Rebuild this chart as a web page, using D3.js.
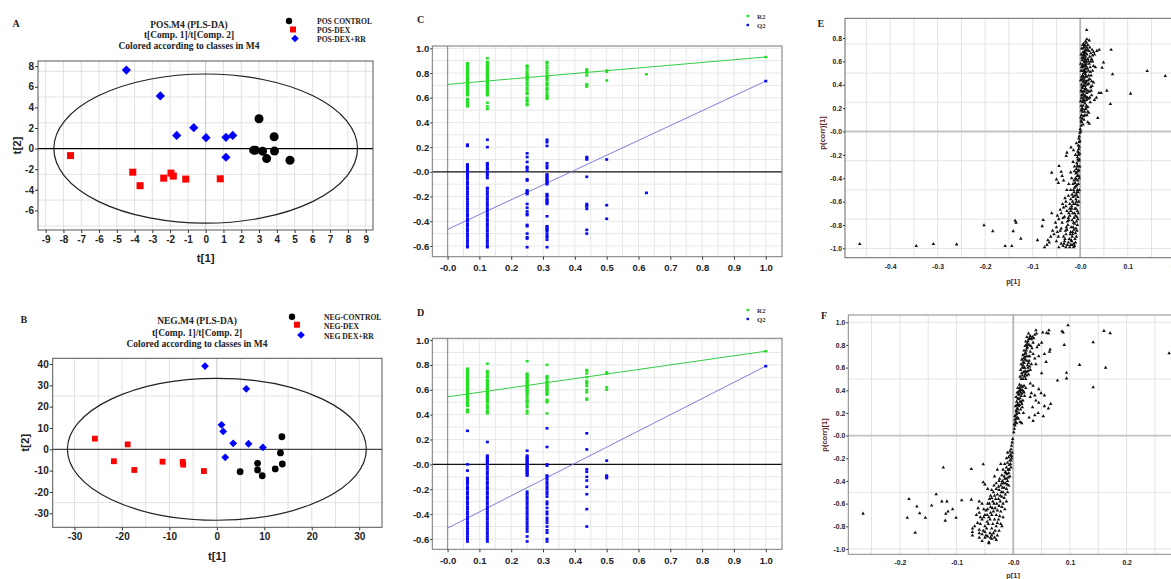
<!DOCTYPE html>
<html><head><meta charset="utf-8">
<script src="https://cdn.jsdelivr.net/npm/d3@7/dist/d3.min.js"></script>
<style>
body{margin:0;background:#fff}
svg{display:block}
</style>
</head><body>
<svg id="fig" width="1171" height="579"></svg>
<script>
// ---------- Score plots (PLS-DA, t[1] vs t[2]) ----------
const posClasses = ["POS CONTROL", "POS-DEX", "POS-DEX+RR"];
const posControl = [[3.0,2.9],[3.85,1.15],[2.7,-0.15],[2.8,-0.15],[3.2,-0.25],[3.87,-0.24],[3.43,-0.97],[4.74,-1.13]];
const posDex = [[-7.6,-0.68],[-4.1,-2.29],[-3.69,-3.6],[-2.36,-2.87],[-1.95,-2.38],[-1.82,-2.67],[-1.12,-2.96],[0.82,-2.93]];
const posDexRR = [[-4.46,7.62],[-2.55,5.11],[-1.63,1.28],[-0.67,2.03],[0.02,1.06],[1.14,1.09],[1.52,1.28],[1.14,-0.84]];
const posEllipse = [8.54, 7.24];
const posTicksX = [-9,-8,-7,-6,-5,-4,-3,-2,-1,0,1,2,3,4,5,6,7,8,9];
const posTicksY = [-6,-4,-2,0,2,4,6,8];
const posGridY = [-7.5,-5,-2.5,2.5,5,7.5];

const negClasses = ["NEG-CONTROL", "NEG-DEX", "NEG DEX+RR"];
const negControl = [[13.7,5.9],[13.4,-1.7],[13.8,-6.9],[8.57,-6.6],[8.57,-9.7],[9.56,-12.4],[12.3,-9.2],[4.9,-10.5]];
const negDex = [[-25.7,5.0],[-18.8,2.3],[-21.7,-5.6],[-17.4,-9.7],[-11.45,-5.8],[-7.2,-5.9],[-7.1,-7.2],[-2.74,-10.2]];
const negDexRR = [[-2.5,39.05],[6.2,28.4],[0.98,11.5],[1.34,8.4],[3.44,2.8],[6.67,2.6],[9.7,0.9],[1.76,-3.75]];
const negEllipse = [31.5, 33.3];
const negTicksX = [-30,-20,-10,0,10,20,30];
const negTicksY = [-30,-20,-10,0,10,20,30,40];
const negGridX = [-30,-25,-20,-15,-10,-5,5,10,15,20,25,30];
const negGridY = [-25,25];

// ---------- Permutation tests ----------
const permX = [0.0625, 0.125, 0.25, 0.3125, 0.4375, 0.5, 0.625, 1.0];
const permTicksX = [0,0.1,0.2,0.3,0.4,0.5,0.6,0.7,0.8,0.9,1.0];
const permTicksY = [-0.6,-0.4,-0.2,0,0.2,0.4,0.6,0.8,1.0];

const posR2 = [
  [0.88,0.87,0.86,0.85,0.84,0.83,0.82,0.81,0.80,0.79,0.78,0.77,0.76,0.75,0.74,0.73,0.72,0.71,0.70,0.69,0.68,0.67,0.66,0.65,0.64,0.63,0.62,0.59,0.58,0.57,0.56,0.55,0.54,0.53],
  [0.92,0.89,0.88,0.87,0.86,0.85,0.84,0.83,0.82,0.81,0.80,0.79,0.78,0.77,0.76,0.75,0.74,0.73,0.72,0.71,0.70,0.69,0.68,0.67,0.66,0.65,0.64,0.63,0.62,0.56,0.53,0.51],
  [0.86,0.85,0.83,0.81,0.79,0.78,0.77,0.76,0.75,0.74,0.72,0.70,0.68,0.66,0.64,0.63,0.60,0.58,0.57,0.55,0.54],
  [0.89,0.88,0.86,0.84,0.82,0.80,0.78,0.77,0.76,0.75,0.74,0.72,0.71,0.70,0.68,0.67,0.66,0.64,0.62,0.61,0.60,0.59],
  [0.83,0.82,0.81,0.80,0.78,0.71,0.70,0.69],
  [0.82,0.81,0.74],
  [0.79],
  [0.93]
];
const posQ2 = [
  [0.22,0.21,0.06,0.05,0.04,0.03,0.02,0.01,0.0,-0.01,-0.02,-0.03,-0.04,-0.06,-0.08,-0.09,-0.10,-0.12,-0.14,-0.16,-0.18,-0.20,-0.22,-0.24,-0.26,-0.28,-0.30,-0.32,-0.34,-0.36,-0.38,-0.40,-0.42,-0.44,-0.46,-0.48,-0.50,-0.52,-0.54,-0.56,-0.58,-0.60,-0.61],
  [0.26,0.20,0.07,0.06,0.05,0.03,0.02,0.0,-0.02,-0.03,-0.05,-0.13,-0.14,-0.16,-0.18,-0.20,-0.22,-0.24,-0.26,-0.28,-0.30,-0.32,-0.34,-0.36,-0.38,-0.40,-0.42,-0.44,-0.46,-0.48,-0.50,-0.52,-0.54,-0.56,-0.58,-0.60,-0.61],
  [0.15,0.12,0.08,0.04,0.03,0.01,-0.06,-0.07,-0.15,-0.16,-0.17,-0.18,-0.26,-0.29,-0.32,-0.34,-0.35,-0.43,-0.44,-0.50,-0.53,-0.54,-0.61],
  [0.26,0.24,0.21,0.07,0.05,0.03,-0.02,-0.03,-0.04,-0.05,-0.06,-0.07,-0.08,-0.09,-0.10,-0.18,-0.19,-0.20,-0.22,-0.23,-0.24,-0.25,-0.26,-0.36,-0.44,-0.45,-0.46,-0.47,-0.48,-0.50,-0.52,-0.53,-0.55,-0.61],
  [0.12,0.11,0.10,-0.04,-0.26,-0.27,-0.28,-0.30,-0.47,-0.50],
  [0.10,-0.27,-0.38],
  [-0.17],
  [0.735]
];
const posIntercepts = { r2: 0.708, q2: -0.466 };

const negR2 = [
  [0.77,0.76,0.75,0.74,0.73,0.72,0.71,0.70,0.69,0.68,0.67,0.66,0.65,0.64,0.63,0.62,0.61,0.60,0.59,0.58,0.57,0.56,0.55,0.54,0.53,0.52,0.51,0.50,0.49,0.48,0.47,0.44,0.43,0.42],
  [0.81,0.75,0.74,0.73,0.71,0.70,0.68,0.67,0.66,0.65,0.64,0.63,0.62,0.61,0.60,0.59,0.58,0.57,0.56,0.55,0.54,0.53,0.52,0.51,0.50,0.48,0.46,0.45,0.43,0.42,0.41],
  [0.83,0.73,0.72,0.71,0.70,0.69,0.68,0.67,0.66,0.65,0.64,0.63,0.62,0.61,0.60,0.59,0.58,0.57,0.56,0.54,0.52,0.51,0.50,0.48,0.46,0.43,0.41],
  [0.80,0.71,0.70,0.69,0.67,0.66,0.65,0.64,0.63,0.62,0.61,0.60,0.59,0.58,0.57,0.56,0.52,0.51,0.50,0.41],
  [0.76,0.75,0.73,0.70,0.67,0.66,0.65,0.63,0.60,0.58,0.53,0.52],
  [0.74,0.73,0.62,0.60],
  [],
  [0.91]
];
const negQ2 = [
  [0.27,0.0,-0.05,-0.11,-0.12,-0.13,-0.14,-0.16,-0.18,-0.19,-0.20,-0.22,-0.24,-0.26,-0.28,-0.30,-0.32,-0.34,-0.36,-0.38,-0.40,-0.42,-0.44,-0.46,-0.48,-0.50,-0.52,-0.54,-0.56,-0.58,-0.60,-0.62],
  [0.18,0.07,0.06,0.05,0.04,0.03,0.02,0.01,0.0,-0.02,-0.04,-0.06,-0.08,-0.10,-0.12,-0.14,-0.16,-0.18,-0.20,-0.22,-0.24,-0.26,-0.28,-0.30,-0.32,-0.34,-0.36,-0.38,-0.40,-0.42,-0.44,-0.46,-0.48,-0.50,-0.52,-0.54,-0.56,-0.58,-0.60,-0.62],
  [0.11,0.07,0.06,0.05,0.04,0.03,0.02,0.01,0.0,-0.01,-0.02,-0.03,-0.04,-0.05,-0.06,-0.07,-0.08,-0.09,-0.22,-0.24,-0.26,-0.28,-0.30,-0.32,-0.34,-0.36,-0.38,-0.40,-0.42,-0.44,-0.46,-0.48,-0.50,-0.52,-0.54,-0.58,-0.62],
  [0.29,0.14,0.0,-0.01,-0.09,-0.10,-0.12,-0.14,-0.16,-0.18,-0.20,-0.22,-0.24,-0.26,-0.30,-0.32,-0.35,-0.38,-0.40,-0.43,-0.45,-0.47,-0.50,-0.53,-0.55,-0.60,-0.62],
  [0.25,0.12,-0.04,-0.06,-0.10,-0.13,-0.18,-0.24,-0.36,-0.50],
  [0.03,-0.09,-0.10,-0.11],
  [],
  [0.79]
];
const negIntercepts = { r2: 0.543, q2: -0.513 };

// ---------- S-plots: p[1] vs p(corr)[1] ----------
const posSplot = [
  [0.002,0.05],[0.003,0.08],[0.004,0.11],[0.003,0.14],[0.005,0.17],[0.004,0.2],[0.006,0.22],[0.005,0.25],[0.007,0.27],[0.003,0.29],[0.008,0.3],[0.006,0.32],[0.004,0.34],[0.009,0.35],[0.005,0.37],[0.007,0.39],[0.003,0.4],[0.01,0.41],[0.006,0.43],[0.004,0.45],[0.008,0.46],[0.005,0.48],[0.011,0.49],[0.007,0.5],[0.004,0.52],[0.009,0.53],[0.006,0.55],[0.012,0.56],[0.005,0.57],[0.008,0.59],[0.01,0.6],[0.004,0.61],[0.007,0.63],[0.011,0.64],[0.005,0.65],[0.009,0.67],[0.006,0.68],[0.012,0.7],[0.008,0.72],[0.01,0.74],[0.007,0.75],[0.013,0.76],[0.009,0.73],[0.015,0.7],[0.014,0.66],[0.016,0.62],[0.013,0.58],[0.015,0.54],[0.012,0.51],[0.014,0.47],[0.013,0.43],[0.015,0.4],[0.012,0.36],[0.014,0.33],[0.011,0.3],[0.013,0.27],[0.01,0.24],[0.012,0.2],[0.009,0.17],[0.007,0.13],[0.002,0.18],[0.001,0.26],[0.002,0.35],[0.001,0.44],[0.002,0.52],[0.001,0.58],[0.002,0.66],[0.003,0.71],
  [0.006,0.06],[0.008,0.1],[0.01,0.14],[0.011,0.19],[0.013,0.22],[0.009,0.26],[0.012,0.29],[0.01,0.31],[0.008,0.34],[0.011,0.37],[0.01,0.39],[0.012,0.42],[0.009,0.44],[0.011,0.47],[0.009,0.51],[0.012,0.54],[0.01,0.57],[0.013,0.6],[0.011,0.62],[0.009,0.65],[0.012,0.67],[0.01,0.69],[0.014,0.72],[0.011,0.77],[0.016,0.74],[0.017,0.6],[0.018,0.48],[0.017,0.44],[0.016,0.35],[0.015,0.29],[0.016,0.17],[0.014,0.14],[0.02,0.72],[0.022,0.6],[0.021,0.51],[0.024,0.43],[0.023,0.35],[0.02,0.29],[0.026,0.65],[0.028,0.56],[0.026,0.52],[0.025,0.39],[0.004,0.63],[0.003,0.55],[0.003,0.47],[0.004,0.38],[0.003,0.31],[0.002,0.22],[0.001,0.12],[0.002,0.09],[0.006,0.71],[0.005,0.74],[0.007,0.66],[0.007,0.56],[0.006,0.47],[0.007,0.42],[0.006,0.28],[0.005,0.19],[0.008,0.61],[0.008,0.52],
  [0.018,0.69],[0.022,0.67],[0.025,0.7],[0.028,0.68],[0.02,0.64],[0.024,0.62],[0.019,0.58],[0.021,0.55],[0.026,0.6],[0.017,0.52],[0.023,0.48],[0.02,0.45],[0.018,0.41],[0.022,0.38],[0.019,0.34],[0.024,0.31],[0.017,0.28],[0.021,0.25],[0.016,0.21],[0.018,0.16],[0.019,0.066],[0.016,0.08],[0.014,0.79],[0.019,0.78],[0.0137,0.869],[0.065,0.70],[0.049,0.59],[0.046,0.546],[0.068,0.49],[0.141,0.518],[0.179,0.475],[0.056,0.35],[0.106,0.324],[0.0395,0.33],[0.044,0.33],[0.0635,0.235],[0.037,0.116],[0.034,0.29],[0.03,0.66],[0.035,0.69],[0.04,0.7],[0.032,0.55],[0.028,0.42],[0.03,0.27],
  [0.0,0.02],[-0.001,-0.01],[0.001,0.0],[-0.002,-0.04],
  [-0.003,-0.06],[-0.002,-0.09],[-0.004,-0.12],[-0.003,-0.15],[-0.005,-0.17],[-0.004,-0.2],[-0.006,-0.22],[-0.003,-0.25],[-0.007,-0.27],[-0.005,-0.3],[-0.008,-0.32],[-0.004,-0.34],[-0.009,-0.36],[-0.006,-0.38],[-0.01,-0.4],[-0.005,-0.42],[-0.011,-0.44],[-0.007,-0.46],[-0.012,-0.48],[-0.006,-0.5],[-0.013,-0.52],[-0.008,-0.54],[-0.015,-0.56],[-0.009,-0.58],[-0.016,-0.6],[-0.01,-0.62],[-0.018,-0.64],[-0.011,-0.66],[-0.02,-0.68],[-0.012,-0.7],[-0.022,-0.72],[-0.013,-0.74],[-0.024,-0.76],[-0.014,-0.78],[-0.026,-0.8],[-0.015,-0.82],[-0.028,-0.84],[-0.016,-0.86],[-0.03,-0.88],[-0.017,-0.9],[-0.032,-0.92],[-0.018,-0.94],[-0.034,-0.96],[-0.02,-0.97],[-0.036,-0.98],[-0.022,-0.99],[-0.012,-0.98],[-0.01,-0.95],[-0.008,-0.9],[-0.007,-0.85],[-0.006,-0.8],[-0.005,-0.75],[-0.004,-0.7],[-0.003,-0.6],[-0.002,-0.5],[-0.002,-0.4],[-0.001,-0.3],
  [-0.001,-0.08],[-0.002,-0.13],[-0.001,-0.19],[-0.002,-0.24],[-0.003,-0.33],[-0.003,-0.38],[-0.004,-0.45],[-0.004,-0.52],[-0.005,-0.56],[-0.005,-0.63],[-0.006,-0.68],[-0.007,-0.73],[-0.008,-0.77],[-0.009,-0.83],[-0.01,-0.87],[-0.011,-0.92],[-0.013,-0.96],[-0.014,-0.99],[-0.017,-0.97],[-0.019,-0.93],[-0.016,-0.88],[-0.013,-0.84],[-0.012,-0.79],[-0.01,-0.72],[-0.009,-0.66],[-0.008,-0.6],[-0.007,-0.52],[-0.009,-0.47],[-0.008,-0.41],[-0.007,-0.35],[-0.006,-0.29],[-0.005,-0.24],[-0.004,-0.18],[-0.012,-0.34],[-0.013,-0.42],[-0.014,-0.5],[-0.017,-0.54],[-0.02,-0.58],[-0.022,-0.66],[-0.024,-0.7],[-0.027,-0.77],[-0.029,-0.82],[-0.031,-0.85],[-0.033,-0.94],[-0.027,-0.97],[-0.023,-0.92],[-0.021,-0.88],[-0.019,-0.82],[-0.017,-0.76],[-0.016,-0.7],[-0.014,-0.62],[-0.011,-0.55],[-0.037,-0.62],[-0.032,-0.57],[-0.028,-0.5],[-0.024,-0.45],[-0.042,-0.67],[-0.048,-0.72],[-0.052,-0.78],[-0.048,-0.86],[-0.04,-0.83],[-0.036,-0.74],[-0.03,-0.64],
  [-0.02,-0.5],[-0.025,-0.55],[-0.03,-0.6],[-0.022,-0.62],[-0.035,-0.65],[-0.028,-0.68],[-0.04,-0.7],[-0.033,-0.73],[-0.045,-0.75],[-0.038,-0.78],[-0.05,-0.82],[-0.042,-0.85],[-0.055,-0.88],[-0.046,-0.9],[-0.05,-0.94],[-0.04,-0.96],[-0.045,-0.99],[-0.03,-0.99],[-0.025,-0.95],[-0.035,-0.9],[-0.02,-0.86],[-0.025,-0.74],[-0.018,-0.66],[-0.015,-0.45],[-0.018,-0.4],[-0.02,-0.35],[-0.012,-0.3],[-0.015,-0.26],[-0.01,-0.2],[-0.014,-0.16],[-0.008,-0.1],
  [-0.0194,-0.136],[-0.028,-0.181],[-0.0295,-0.21],[-0.0446,-0.295],[-0.06,-0.352],[-0.04,-0.345],[-0.05,-0.41],[-0.046,-0.44],[-0.035,-0.42],[-0.038,-0.38],
  [-0.464,-0.963],[-0.345,-0.98],[-0.309,-0.963],[-0.26,-0.966],[-0.2025,-0.803],[-0.184,-0.853],[-0.158,-0.98],[-0.144,-0.98],[-0.141,-0.853],[-0.137,-0.764],[-0.135,-0.78],[-0.125,-0.917],[-0.09,-0.93],[-0.08,-0.81],[-0.078,-0.757],[-0.07,-0.97],[-0.075,-0.99],[-0.065,-0.95],[-0.06,-0.7],[-0.058,-0.85],[-0.062,-0.9],[-0.068,-0.93]
];
const negSplot = [
  [0.001,0.03],[0.002,0.06],[0.003,0.09],[0.004,0.12],[0.005,0.15],[0.003,0.17],[0.006,0.19],[0.005,0.22],[0.007,0.24],[0.004,0.26],[0.008,0.28],[0.006,0.3],[0.009,0.32],[0.005,0.34],[0.01,0.36],[0.007,0.38],[0.012,0.4],[0.008,0.42],[0.014,0.44],[0.011,0.45],[0.016,0.43],[0.013,0.41],[0.018,0.39],[0.015,0.37],[0.012,0.33],[0.014,0.3],[0.011,0.27],[0.013,0.23],[0.01,0.2],[0.009,0.15],[0.012,0.12],[0.015,0.11],[0.018,0.2],[0.016,0.25],[0.02,0.35],[0.022,0.42],[0.019,0.44],
  [0.002,0.1],[0.003,0.14],[0.004,0.18],[0.006,0.21],[0.007,0.27],[0.008,0.33],[0.009,0.37],[0.01,0.39],[0.011,0.42],[0.013,0.38],[0.014,0.35],[0.012,0.3],[0.01,0.26],[0.008,0.23],[0.007,0.16],[0.006,0.11],[0.016,0.4],[0.017,0.31],[0.015,0.28],[0.019,0.38],[0.014,0.5],[0.016,0.53],[0.018,0.56],[0.017,0.62],[0.02,0.6],[0.019,0.64],[0.021,0.67],[0.023,0.7],[0.02,0.72],[0.023,0.75],[0.025,0.78],[0.023,0.8],[0.026,0.83],[0.029,0.86],[0.027,0.9],[0.024,0.66],[0.027,0.64],[0.029,0.7],[0.031,0.79],[0.034,0.87],[0.026,0.57],[0.024,0.53],[0.029,0.61],[0.021,0.54],
  [0.012,0.52],[0.015,0.55],[0.013,0.58],[0.016,0.6],[0.014,0.63],[0.018,0.65],[0.015,0.67],[0.02,0.69],[0.017,0.71],[0.022,0.73],[0.019,0.75],[0.024,0.77],[0.021,0.79],[0.025,0.81],[0.022,0.83],[0.027,0.85],[0.024,0.87],[0.03,0.88],[0.02,0.52],[0.023,0.56],[0.019,0.6],[0.025,0.62],[0.021,0.57],[0.028,0.66],[0.026,0.7],[0.03,0.74],[0.033,0.77],[0.028,0.8],[0.035,0.82],[0.032,0.85],[0.038,0.89],[0.036,0.86],[0.03,0.58],[0.027,0.54],[0.017,0.5],[0.022,0.5],[0.026,0.6],[0.018,0.68],[0.035,0.72],[0.038,0.68],[0.042,0.78],[0.045,0.8],[0.04,0.63],[0.032,0.63],
  [0.0965,0.974],[0.16,0.924],[0.171,0.904],[0.141,0.824],[0.275,0.727],[0.117,0.624],[0.163,0.6],[0.141,0.427],[0.094,0.555],[0.094,0.505],[0.078,0.486],[0.09,0.8],[0.088,0.91],[0.086,0.92],[0.063,0.93],[0.059,0.905],[0.052,0.91],[0.062,0.9],[0.04,0.93],[0.041,0.9],[0.065,0.76],[0.064,0.74],[0.055,0.72],[0.05,0.82],[0.045,0.7],[0.058,0.65],[0.05,0.55],[0.045,0.41],[0.049,0.375],[0.055,0.355],[0.032,0.375],[0.038,0.355],[0.03,0.34],[0.045,0.29],[0.055,0.26],[0.062,0.24],[0.066,0.28],[0.044,0.2],[0.038,0.18],[0.053,0.17],[0.035,0.13],[0.028,0.16],[0.034,0.25],[0.04,0.31],[0.03,0.46],[0.035,0.44],
  [-0.001,-0.03],[-0.002,-0.06],[-0.003,-0.09],[-0.004,-0.12],[-0.006,-0.14],[-0.005,-0.17],[-0.008,-0.19],[-0.006,-0.22],[-0.01,-0.24],[-0.007,-0.26],[-0.012,-0.28],[-0.009,-0.3],[-0.014,-0.32],[-0.011,-0.34],[-0.016,-0.36],[-0.012,-0.38],[-0.019,-0.4],[-0.014,-0.42],[-0.022,-0.44],[-0.016,-0.46],[-0.025,-0.48],[-0.018,-0.5],[-0.028,-0.52],[-0.02,-0.54],[-0.031,-0.56],[-0.023,-0.58],[-0.034,-0.6],[-0.025,-0.62],[-0.037,-0.64],[-0.028,-0.66],[-0.04,-0.68],[-0.03,-0.7],[-0.043,-0.72],[-0.033,-0.74],[-0.046,-0.76],[-0.036,-0.78],[-0.05,-0.8],[-0.038,-0.82],[-0.053,-0.84],[-0.041,-0.86],[-0.045,-0.89],[-0.033,-0.9],[-0.043,-0.94],[-0.028,-0.88],[-0.025,-0.84],[-0.022,-0.78],[-0.018,-0.72],[-0.015,-0.65],[-0.012,-0.58],[-0.01,-0.5],[-0.008,-0.44],[-0.006,-0.36],[-0.004,-0.28],[-0.003,-0.2],[-0.02,-0.35],[-0.024,-0.38],[-0.018,-0.3],[-0.015,-0.25],[-0.012,-0.2],[-0.01,-0.15],[-0.026,-0.45],[-0.03,-0.42],[-0.035,-0.5],[-0.038,-0.55],[-0.042,-0.6],[-0.045,-0.65],[-0.05,-0.7],[-0.055,-0.74],[-0.058,-0.78],[-0.06,-0.83],[-0.055,-0.87],[-0.048,-0.88],[-0.04,-0.53],[-0.045,-0.47],[-0.05,-0.43],[-0.033,-0.36],[-0.028,-0.3],[-0.022,-0.25],
  [-0.002,-0.15],[-0.003,-0.18],[-0.004,-0.22],[-0.005,-0.25],[-0.007,-0.3],[-0.008,-0.33],[-0.009,-0.37],[-0.01,-0.4],[-0.011,-0.43],[-0.012,-0.47],[-0.014,-0.52],[-0.016,-0.55],[-0.018,-0.6],[-0.02,-0.63],[-0.022,-0.67],[-0.024,-0.71],[-0.026,-0.74],[-0.028,-0.77],[-0.03,-0.8],[-0.032,-0.84],[-0.035,-0.86],[-0.038,-0.88],[-0.04,-0.9],[-0.017,-0.42],[-0.019,-0.46],[-0.021,-0.5],[-0.023,-0.53],[-0.026,-0.56],[-0.029,-0.6],[-0.032,-0.64],[-0.035,-0.67],[-0.038,-0.7],[-0.041,-0.74],[-0.044,-0.78],[-0.047,-0.82],[-0.05,-0.85],[-0.013,-0.33],[-0.015,-0.38],[-0.02,-0.42],[-0.025,-0.4],[-0.03,-0.47],[-0.033,-0.53],[-0.036,-0.58],[-0.04,-0.63],[-0.045,-0.6],[-0.048,-0.66],[-0.052,-0.72],[-0.046,-0.7],[-0.042,-0.56],[-0.038,-0.48],[-0.034,-0.44],
  [-0.265,-0.688],[-0.187,-0.724],[-0.184,-0.559],[-0.17,-0.626],[-0.173,-0.856],[-0.165,-0.685],[-0.155,-0.724],[-0.144,-0.616],[-0.136,-0.518],[-0.1235,-0.282],[-0.126,-0.58],[-0.117,-0.58],[-0.12,-0.75],[-0.119,-0.69],[-0.115,-0.67],[-0.107,-0.65],[-0.101,-0.725],[-0.091,-0.57],[-0.074,-0.294],[-0.074,-0.565],[-0.053,-0.253],[-0.053,-0.412],[-0.06,-0.58],[-0.072,-0.82],[-0.072,-0.85],[-0.072,-0.88],[-0.068,-0.8],[-0.063,-0.77],[-0.058,-0.72],[-0.06,-0.68],[-0.065,-0.7],[-0.052,-0.65],[-0.055,-0.6],[-0.062,-0.64],[-0.06,-0.9],[-0.06,-0.86],[-0.055,-0.93],[-0.05,-0.9],[-0.043,-0.95],[-0.038,-0.91],[-0.03,-0.92],[-0.02,-0.8]
];
const posSTicksX = [-0.4,-0.3,-0.2,-0.1,0,0.1,0.2];
const posSTicksY = [-1.0,-0.8,-0.6,-0.4,-0.2,0,0.2,0.4,0.6,0.8];
const negSTicksX = [-0.2,-0.1,0,0.1,0.2];
const negSTicksY = [-1.0,-0.8,-0.6,-0.4,-0.2,0,0.2,0.4,0.6,0.8,1.0];

// ---------- drawing ----------
const SANS = "'Liberation Sans', Arial, sans-serif";
const SERIF = "'Liberation Serif', 'Times New Roman', serif";
const svg = d3.select("#fig");
svg.append("rect").attr("width", 1171).attr("height", 579).attr("fill", "#fff");

const intFmt = d => String(d);
const decFmt = d => (d === 0 ? "-0.0" : d.toFixed(1));
const diamond = h => `M0,${-h}L${h},0L0,${h}L${-h},0Z`;

function gridLines(g, x, y, xs, ys, color) {
  const [x0, x1] = x.range(), [y0, y1] = y.range();
  g.append("g").selectAll("line").data(xs).join("line")
    .attr("x1", d => x(d)).attr("x2", d => x(d)).attr("y1", y0).attr("y2", y1)
    .attr("stroke", color).attr("stroke-width", 1);
  g.append("g").selectAll("line").data(ys).join("line")
    .attr("x1", x0).attr("x2", x1).attr("y1", d => y(d)).attr("y2", d => y(d))
    .attr("stroke", color).attr("stroke-width", 1);
}

function styleAxis(sel, size, color) {
  sel.select(".domain").remove();
  sel.selectAll(".tick line").attr("stroke", "#333");
  sel.selectAll("text").attr("font-family", SANS).attr("font-weight", "bold")
    .attr("font-size", size).attr("fill", color);
}

function scorePanel(o) {
  const x = d3.scaleLinear().domain(o.xDom).range(o.xRange);
  const y = d3.scaleLinear().domain(o.yDom).range(o.yRange);
  const g = svg.append("g");
  gridLines(g, x, y, o.gridX, o.gridY, "#e2e2e2");
  g.append("line").attr("x1", x(0)).attr("x2", x(0)).attr("y1", o.yRange[0]).attr("y2", o.yRange[1])
    .attr("stroke", "#c4c4c4").attr("stroke-width", 1);
  g.append("line").attr("x1", o.xRange[0]).attr("x2", o.xRange[1]).attr("y1", y(0)).attr("y2", y(0))
    .attr("stroke", o.zeroColor).attr("stroke-width", 1.2);
  // Hotelling T2 ellipse
  g.append("ellipse").attr("cx", x(0)).attr("cy", y(0))
    .attr("rx", x(o.ellipse[0]) - x(0)).attr("ry", y(0) - y(o.ellipse[1]))
    .attr("fill", "none").attr("stroke", "#222").attr("stroke-width", 1.2);
  g.append("rect").attr("x", o.xRange[0]).attr("y", o.yRange[1])
    .attr("width", o.xRange[1] - o.xRange[0]).attr("height", o.yRange[0] - o.yRange[1])
    .attr("fill", "none").attr("stroke", "#555").attr("stroke-width", 1);
  g.append("g").attr("transform", `translate(0,${o.yRange[0]})`)
    .call(d3.axisBottom(x).tickValues(o.ticksX).tickFormat(intFmt).tickSize(3).tickPadding(3))
    .call(s => styleAxis(s, 10, "#222"));
  g.append("g").attr("transform", `translate(${o.xRange[0]},0)`)
    .call(d3.axisLeft(y).tickValues(o.ticksY).tickFormat(intFmt).tickSize(3).tickPadding(1))
    .call(s => styleAxis(s, 10, "#222"));
  g.append("text").attr("x", x(0)).attr("y", o.xLabelY).attr("text-anchor", "middle")
    .attr("font-family", SANS).attr("font-weight", "bold").attr("font-size", 11.5).attr("fill", "#222").text("t[1]");
  g.append("text").attr("transform", `translate(${o.yLabelX},${(o.yRange[0] + o.yRange[1]) / 2}) rotate(-90)`)
    .attr("text-anchor", "middle").attr("dy", "0.35em")
    .attr("font-family", SANS).attr("font-weight", "bold").attr("font-size", 11.5).attr("fill", "#222").text("t[2]");
  g.append("g").selectAll("circle").data(o.groups[0]).join("circle")
    .attr("cx", d => x(d[0])).attr("cy", d => y(d[1])).attr("r", o.r).attr("fill", "#000");
  g.append("g").selectAll("rect").data(o.groups[1]).join("rect")
    .attr("x", d => x(d[0]) - o.sq / 2).attr("y", d => y(d[1]) - o.sq / 2)
    .attr("width", o.sq).attr("height", o.sq).attr("fill", "#ff0000");
  g.append("g").selectAll("path").data(o.groups[2]).join("path")
    .attr("transform", d => `translate(${x(d[0])},${y(d[1])})`).attr("d", diamond(o.dm)).attr("fill", "#0000ff");
  const t = g.append("text").attr("text-anchor", "middle").attr("font-family", SERIF)
    .attr("font-weight", "bold").attr("font-size", 9.5).attr("fill", "#222");
  o.title.forEach((s, i) => t.append("tspan").attr("x", o.titleX).attr("y", o.titleY[i]).text(s));
  g.append("text").attr("x", o.letter[0]).attr("y", o.letter[1]).attr("font-family", SERIF)
    .attr("font-weight", "bold").attr("font-size", 10).attr("fill", "#222").text(o.letter[2]);
  const lg = g.append("g");
  lg.append("circle").attr("cx", o.legMarks[0][0]).attr("cy", o.legMarks[0][1]).attr("r", 3.2).attr("fill", "#000");
  lg.append("rect").attr("x", o.legMarks[1][0] - 3).attr("y", o.legMarks[1][1] - 3).attr("width", 6).attr("height", 6).attr("fill", "#ff0000");
  lg.append("path").attr("transform", `translate(${o.legMarks[2][0]},${o.legMarks[2][1]})`).attr("d", diamond(3.8)).attr("fill", "#0000ff");
  o.classes.forEach((c, i) => lg.append("text").attr("x", o.legX).attr("y", o.legY[i])
    .attr("font-family", SERIF).attr("font-weight", "bold").attr("font-size", 7.6).attr("fill", "#222").text(c));
}

scorePanel({
  xDom: [-9.43, 9.41], xRange: [38, 373], yDom: [-7.9, 8.5], yRange: [230, 61],
  gridX: posTicksX.filter(d => d !== 0), gridY: posGridY, zeroColor: "#000",
  ellipse: posEllipse, ticksX: posTicksX, ticksY: posTicksY,
  xLabelY: 262, yLabelX: 17,
  groups: [posControl, posDex, posDexRR], r: 4.5, sq: 7, dm: 4.6,
  title: ["POS.M4 (PLS-DA)", "t[Comp. 1]/t[Comp. 2]", "Colored according to classes in M4"],
  titleX: 189, titleY: [27.5, 38, 49],
  letter: [12.5, 27, "A"],
  legMarks: [[289, 21], [293, 29.5], [295, 38.5]], classes: posClasses, legX: 317, legY: [24, 32.5, 41.5]
});
scorePanel({
  xDom: [-34.6, 34.8], xRange: [52.7, 382], yDom: [-36.6, 42.7], yRange: [527.3, 358.3],
  gridX: negGridX, gridY: negGridY, zeroColor: "#444",
  ellipse: negEllipse, ticksX: negTicksX, ticksY: negTicksY,
  xLabelY: 560, yLabelX: 25,
  groups: [negControl, negDex, negDexRR], r: 3.4, sq: 5.8, dm: 3.9,
  title: ["NEG.M4 (PLS-DA)", "t[Comp. 1]/t[Comp. 2]", "Colored according to classes in M4"],
  titleX: 197, titleY: [324, 335.5, 346.5],
  letter: [20.5, 323, "B"],
  legMarks: [[292, 316.7], [297, 324.7], [301, 335]], classes: negClasses, legX: 324, legY: [320, 329, 338.5]
});

function permPanel(o) {
  const x = d3.scaleLinear().domain([-0.048, 1.051]).range([432.3, 782]);
  const y = d3.scaleLinear().domain(o.yDom).range(o.yRange);
  const g = svg.append("g");
  const gx = [], gy = [];
  for (let i = 1; i <= 20; i++) gx.push(i * 0.05);
  for (let i = -6; i <= 10; i++) if (i !== 0) gy.push(i / 10);
  gridLines(g, x, y, gx, gy, "#e8e8e8");
  g.append("line").attr("x1", x(0)).attr("x2", x(0)).attr("y1", o.yRange[0]).attr("y2", o.yRange[1])
    .attr("stroke", "#999").attr("stroke-width", 1.3);
  g.append("line").attr("x1", 432.3).attr("x2", 782).attr("y1", y(0)).attr("y2", y(0))
    .attr("stroke", "#111").attr("stroke-width", 1.4);
  g.append("rect").attr("x", 432.3).attr("y", o.yRange[1]).attr("width", 782 - 432.3)
    .attr("height", o.yRange[0] - o.yRange[1]).attr("fill", "none").attr("stroke", "#777");
  // regression lines from the intercepts to the original model values
  const last = permX.length - 1;
  const line = d3.line().x(d => x(d[0])).y(d => y(d[1]));
  g.append("path").attr("d", line([[0, o.icpt.r2], [permX[last], o.r2[last][0]]]))
    .attr("stroke", "#33cc44").attr("stroke-width", 1).attr("fill", "none");
  g.append("path").attr("d", line([[0, o.icpt.q2], [permX[last], o.q2[last][0]]]))
    .attr("stroke", "#7070d8").attr("stroke-width", 0.9).attr("fill", "none");
  const flat = arr => arr.flatMap((col, i) => col.map(v => [permX[i], v]));
  g.append("g").selectAll("rect").data(flat(o.r2)).join("rect")
    .attr("x", d => x(d[0]) - 1.5).attr("y", d => y(d[1]) - 1.2).attr("width", 3).attr("height", 2.4).attr("fill", "#22e022");
  g.append("g").selectAll("rect").data(flat(o.q2)).join("rect")
    .attr("x", d => x(d[0]) - 1.5).attr("y", d => y(d[1]) - 1.3).attr("width", 3).attr("height", 2.6).attr("fill", "#0a0af0");
  g.append("g").attr("transform", `translate(0,${o.yRange[0]})`)
    .call(d3.axisBottom(x).tickValues(permTicksX).tickFormat(decFmt).tickSize(3).tickPadding(5))
    .call(s => styleAxis(s, 9.5, "#222"));
  g.append("g").attr("transform", "translate(432.3,0)")
    .call(d3.axisLeft(y).tickValues(permTicksY).tickFormat(decFmt).tickSize(2).tickPadding(1))
    .call(s => styleAxis(s, 9.5, "#222"));
  g.append("text").attr("x", 417).attr("y", o.letterY).attr("font-family", SERIF).attr("font-weight", "bold")
    .attr("font-size", 10).attr("fill", "#222").text(o.letter);
  const lg = g.append("g").attr("font-family", SERIF).attr("font-weight", "bold").attr("font-size", 6.8).attr("fill", "#333");
  lg.append("rect").attr("x", 746.5).attr("y", o.legY[0] - 1.2).attr("width", 2.5).attr("height", 2.4).attr("fill", "#22e022");
  lg.append("rect").attr("x", 746.5).attr("y", o.legY[1] - 1.2).attr("width", 2.5).attr("height", 2.4).attr("fill", "#0a0af0");
  lg.append("text").attr("x", 757).attr("y", o.legY[0] + 2.5).text("R2");
  lg.append("text").attr("x", 757).attr("y", o.legY[1] + 2.5).text("Q2");
}

permPanel({ yDom: [-0.687, 1.019], yRange: [256.7, 46], r2: posR2, q2: posQ2, icpt: posIntercepts,
  letter: "C", letterY: 23, legY: [16, 25] });
permPanel({ yDom: [-0.683, 1.014], yRange: [549.3, 338.3], r2: negR2, q2: negQ2, icpt: negIntercepts,
  letter: "D", letterY: 316, legY: [310, 319] });

function sPanel(o) {
  const x = d3.scaleLinear().domain(o.xDom).range(o.xRange);
  const y = d3.scaleLinear().domain(o.yDom).range(o.yRange);
  const g = svg.append("g");
  gridLines(g, x, y, o.gridX, o.gridY, "#e3e3e3");
  g.append("line").attr("x1", x(0)).attr("x2", x(0)).attr("y1", o.yRange[0]).attr("y2", o.yRange[1])
    .attr("stroke", "#b5b5b5").attr("stroke-width", 1.8);
  g.append("line").attr("x1", o.xRange[0]).attr("x2", o.xRange[1]).attr("y1", y(0)).attr("y2", y(0))
    .attr("stroke", "#c4c4c4").attr("stroke-width", 1.8);
  g.append("rect").attr("x", o.xRange[0]).attr("y", o.yRange[1]).attr("width", o.xRange[1] - o.xRange[0])
    .attr("height", o.yRange[0] - o.yRange[1]).attr("fill", "none").attr("stroke", o.frame).attr("stroke-width", 1);
  const tri = d3.symbol().type(d3.symbolTriangle).size(5.5);
  g.append("g").selectAll("path").data(o.points).join("path")
    .attr("transform", d => `translate(${x(d[0])},${y(d[1])})`).attr("d", tri).attr("fill", "#111");
  g.append("g").attr("transform", `translate(0,${o.yRange[0]})`)
    .call(d3.axisBottom(x).tickValues(o.ticksX).tickFormat(decFmt).tickSize(0).tickPadding(6))
    .call(s => styleAxis(s, 6.8, "#1a1a2a"));
  g.append("g").attr("transform", `translate(${o.xRange[0]},0)`)
    .call(d3.axisLeft(y).tickValues(o.ticksY).tickFormat(decFmt).tickSize(2).tickPadding(1))
    .call(s => styleAxis(s, 6.8, "#1a1a2a"));
  g.append("text").attr("x", 1013).attr("y", o.xLabelY).attr("text-anchor", "middle")
    .attr("font-family", SANS).attr("font-weight", "bold").attr("font-size", 7.5).attr("fill", "#5a2424").text("p[1]");
  g.append("text").attr("transform", `translate(${o.yLabelX},${o.yLabelC}) rotate(-90)`).attr("text-anchor", "middle")
    .attr("font-family", SANS).attr("font-weight", "bold").attr("font-size", 7.5).attr("fill", "#5a2424").text("p(corr)[1]");
  g.append("text").attr("x", o.letter[0]).attr("y", o.letter[1]).attr("font-family", SERIF).attr("font-weight", "bold")
    .attr("font-size", 10).attr("fill", "#222").text(o.letter[2]);
}

const eGridX = [], fGridX = [];
for (let i = -9; i <= 5; i++) if (i !== 0) eGridX.push(i * 0.05);
for (let i = -5; i <= 6; i++) if (i !== 0) fGridX.push(i * 0.05);

sPanel({ xDom: [-0.495, 0.25], xRange: [845, 1199], yDom: [-1.08, 0.969], yRange: [257.7, 18.3],
  gridX: eGridX, gridY: [-1.0, -0.75, -0.5, -0.25, 0.25, 0.5, 0.75], points: posSplot, frame: "#666",
  ticksX: posSTicksX, ticksY: posSTicksY, xLabelY: 283.5, yLabelX: 825, yLabelC: 133, letter: [817.5, 26.5, "E"] });
sPanel({ xDom: [-0.291, 0.3], xRange: [848.3, 1183.3], yDom: [-1.047, 1.064], yRange: [554.3, 315],
  gridX: fGridX, gridY: [-1.0, -0.5, 0.5, 1.0], points: negSplot, frame: "#888",
  ticksX: negSTicksX, ticksY: negSTicksY, xLabelY: 578, yLabelX: 827, yLabelC: 435, letter: [821, 318.5, "F"] });
</script>
</body></html>
